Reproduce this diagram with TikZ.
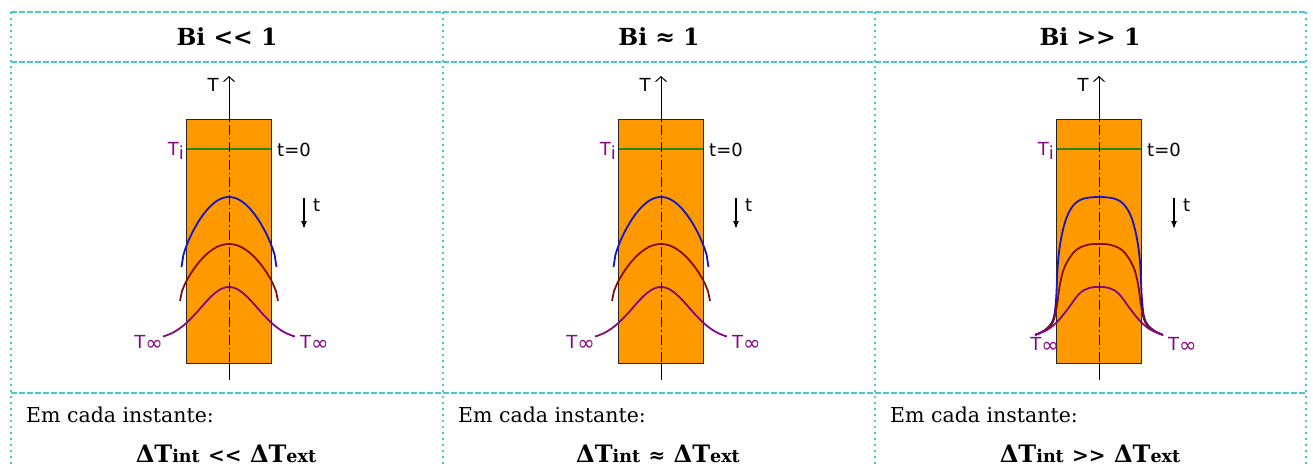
\documentclass[tikz,border=0pt]{standalone}
\usepackage{fontspec}
\setmainfont{DejaVu Serif}
\setsansfont{DejaVu Sans}
\usetikzlibrary{arrows.meta}
\definecolor{gridc}{RGB}{72,200,205}
\definecolor{slab}{RGB}{255,153,0}
\definecolor{tgreen}{RGB}{40,130,20}
\definecolor{tblue}{RGB}{20,20,200}
\definecolor{tred}{RGB}{130,15,15}
\definecolor{tpurple}{RGB}{128,10,128}
\newcommand{\dT}[1]{\bfseries\fontsize{24}{24}\selectfont ΔT{\fontsize{17.5}{17.5}\selectfont int}
  {\fontsize{20}{20}\selectfont #1} ΔT{\fontsize{17.5}{17.5}\selectfont ext}}
\newcommand{\Tinf}{T\raisebox{-2pt}{\fontsize{21}{21}\selectfont ∞}}
\begin{document}
\begin{tikzpicture}[x=1pt,y=-1pt,
  hline/.style={draw=gridc,line width=1.1pt,dash pattern=on 6pt off 2pt},
  vline/.style={draw=gridc,line width=1.1pt,dash pattern=on 2pt off 4pt},
  head/.style={font=\bfseries\fontsize{23.5}{23.5}\selectfont},
  body/.style={font=\fontsize{20.5}{20.5}\selectfont,inner sep=0pt},
  lab/.style={font=\sffamily\fontsize{18}{18}\selectfont,inner sep=0pt},
  wall/.style={draw=black!85,line width=0.9pt,fill=slab,minimum width=85pt,minimum height=244pt,inner sep=0pt},
  curve/.style={line width=1.8pt}]
\useasboundingbox (0,0) rectangle (1313,466);
% table
\foreach \y in {12,62,393}{\draw[hline] (11,\y) -- (1306,\y);}
\foreach \x in {11,443,875,1306}{\draw[vline] (\x,12) -- (\x,466);}
\node[head] (bi1) at (227,37) {Bi <{}< 1};
\node[head] (bi2) at (659,37) {Bi ≈ 1};
\node[head] (bi3) at (1090,37) {Bi >{}> 1};
\foreach \x/\n in {26/1,458/2,890/3}{\node[body,anchor=base west] (em\n) at (\x,422) {Em cada instante:};}
\node[anchor=base,inner sep=0pt] (dt1) at (226,462) {\dT{<{}<}};
\node[anchor=base,inner sep=0pt] (dt2) at (658,462) {\dT{≈}};
\node[anchor=base,inner sep=0pt] (dt3) at (1090,462) {\dT{>{}>}};
% slabs
\foreach \cx/\n in {229/a,661/b,1099/c}{
\begin{scope}[xshift=\cx pt]
\node[wall] (wall\n) at (0,241) {};
\coordinate (top\n) at (0,76);\coordinate (bot\n) at (0,380);
\draw[tgreen,line width=2pt] (-42,149) -- (42,149);
\draw[line width=1pt] (bot\n) -- (wall\n.south);
\draw[line width=1pt,-{Straight Barb[length=5pt,width=11pt]}] (wall\n.north) -- (top\n);
\node[lab,anchor=base] (T\n) at (-16,91) {T};
\node[lab,anchor=base east,text=tpurple] (Ti\n) at (-45,155) {T\raisebox{-4pt}{i}};
\node[lab,anchor=base west] (t0\n) at (48,156) {t=0};
\coordinate (ts\n) at (75,198);\coordinate (te\n) at (75,229);
\draw[line width=1.3pt,-{Latex[length=8pt,width=6pt]}] (ts\n) -- (te\n);
\node[lab,anchor=base west] (t\n) at (84,211) {t};
\end{scope}}
% curves, Bi <= 1
\foreach \cx in {229,661}{
\begin{scope}[xshift=\cx pt]
\draw[tblue,curve] plot[domain=-47.5:47.5,samples=51]
  (\x,{267-35*(cos(90*(\x)/47.5)+sqrt(abs(1-(\x/47.5)*(\x/47.5))))});
\draw[tred,curve] plot[domain=-49:49,samples=51]
  (\x,{301-28.5*(cos(90*(\x)/49)+sqrt(abs(1-(\x/49)*(\x/49))))});
\draw[tpurple,curve] plot[domain=-66:66,samples=61]
  (\x,{340-53*exp(0-(\x/40)*(\x/40))});
\draw[line width=1pt,dash pattern=on 10pt off 3pt on 1.5pt off 3pt] (0,362) -- (0,120);
\node[lab,anchor=base east,text=tpurple] (Tl) at (-66,348) {\Tinf};
\node[lab,anchor=base west,text=tpurple] (Tr) at (71,348) {\Tinf};
\end{scope}}
% curves, Bi >> 1
\begin{scope}[xshift=1099pt]
\draw[tblue,curve] plot[smooth,tension=0.6] coordinates {(-64,335) (-54,330) (-46,320) (-43,300)
  (-41,262) (-37,234) (-30,212) (-19,200) (0,197) (19,200) (30,212) (37,234) (41,262) (43,300)
  (46,320) (54,330) (64,335)};
\draw[tred,curve] plot[smooth,tension=0.6] coordinates {(-64,335) (-54,330) (-46,322) (-42,305)
  (-39,284) (-34,266) (-24,251) (-12,245) (0,244) (12,245) (24,251) (34,266) (39,284) (42,305)
  (46,322) (54,330) (64,335)};
\draw[tpurple,curve] plot[smooth,tension=0.6] coordinates {(-64,335) (-52,330) (-42,322) (-32,310)
  (-20,294) (-10,288) (0,287) (10,288) (20,294) (32,310) (42,322) (52,330) (64,335)};
\draw[line width=1pt,dash pattern=on 10pt off 3pt on 1.5pt off 3pt] (0,362) -- (0,120);
\node[lab,anchor=base east,text=tpurple] (Tlc) at (-40,350) {\Tinf};
\node[lab,anchor=base west,text=tpurple] (Trc) at (69,350) {\Tinf};
\end{scope}
\end{tikzpicture}
\end{document}
